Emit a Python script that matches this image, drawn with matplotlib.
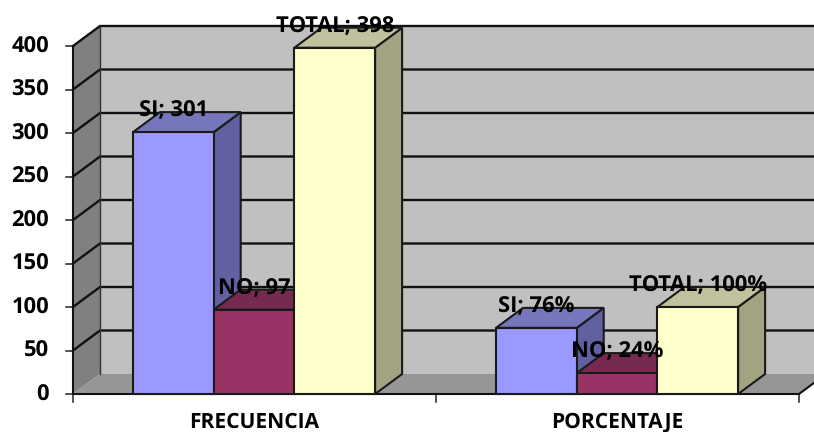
from matplotlib import pyplot as plt
from matplotlib.patches import Polygon
import numpy as np

grupos = ["FRECUENCIA", "PORCENTAJE"]
series = ["SI", "NO", "TOTAL"]
frecuencia = [301, 97, 398]
porcentaje = [76, 24, 100]
y_ticks = [0, 50, 100, 150, 200, 250, 300, 350, 400]

# colores: frente, lateral, tapa
frente = ["#9999FF", "#993366", "#FFFFCC"]
lateral = ["#6161A1", "#5E2140", "#A3A382"]
tapa = ["#7676BC", "#772A50", "#C1C19D"]

plt.rcParams['font.family'] = ['Open Sans', 'DejaVu Sans']
plt.rcParams['text.hinting'] = 'no_hinting'
plt.rcParams['text.hinting_factor'] = 1

fig = plt.figure(figsize=(8.14, 4.32), dpi=100)
ax = fig.add_axes([73 / 814, 1 - 394 / 432, 726 / 814, 348 / 432])
ax.set_xlim(0, 2)
ax.set_ylim(0, 400)
ax.axis("off")

# profundidad del efecto 3D en unidades de datos
dx = 27 / 363
dy = 20 / 0.87
ancho = 80.7 / 363
margen = 60 / 363


def poligono(puntos, color, z, borde="none", lw=0):
    ax.add_patch(Polygon(puntos, closed=True, facecolor=color, edgecolor=borde,
                         linewidth=lw, zorder=z, clip_on=False))


# paredes y piso
poligono([(dx, dy), (2 + dx, dy), (2 + dx, 400 + dy), (dx, 400 + dy)], "#C0C0C0", 1)
poligono([(0, 0), (dx, dy), (dx, 400 + dy), (0, 400)], "#808080", 1)
poligono([(0, 0), (2, 0), (2 + dx, dy), (dx, dy)], "#969696", 1)

# lineas de la cuadricula
for v in y_ticks:
    if v > 0:
        ax.plot([0, dx, 2 + dx], [v, v + dy, v + dy], color="#111111", lw=1.7,
                zorder=2, clip_on=False)
    ax.plot([-7 / 363, 0], [v, v], color="#222222", lw=1.1, zorder=2, clip_on=False)
ax.plot([dx, dx], [dy, 400 + dy], color="#333333", lw=1, zorder=2, clip_on=False)
ax.plot([0, 0], [0, 400], color="#111111", lw=1.5, zorder=3, clip_on=False)
ax.plot([0, 2, 2 + dx], [0, 0, dy], color="#111111", lw=1.5, zorder=3, clip_on=False)

# marcas del eje x
for x in range(3):
    ax.plot([x, x], [0, -8 / 0.87], color="#222222", lw=1.1, zorder=2, clip_on=False)

# barras
for g, valores in enumerate([frecuencia, porcentaje]):
    for i, v in enumerate(valores):
        x0 = g + margen + i * ancho
        x1 = x0 + ancho
        z = 4 + i
        poligono([(x1, 0), (x1 + dx, dy), (x1 + dx, v + dy), (x1, v)], lateral[i], z, "#1a1a1a", 1.5)
        poligono([(x0, v), (x1, v), (x1 + dx, v + dy), (x0 + dx, v + dy)], tapa[i], z, "#1a1a1a", 1.5)
        ax.bar(x0, v, width=ancho, align="edge", color=frente[i], edgecolor="#1a1a1a",
               linewidth=1.5, zorder=z, clip_on=False)

# etiquetas de datos
for g, valores in enumerate([frecuencia, porcentaje]):
    sufijo = "" if g == 0 else "%"
    for i, v in enumerate(valores):
        xc = g + margen + (i + 0.5) * ancho
        ax.text(xc, v + 21.5 / 0.87, "{}; {}{}".format(series[i], v, sufijo), fontsize=15.5,
                fontweight="bold", ha="center", va="center", color="black", zorder=10)

# rotulos de los ejes
for v in y_ticks:
    ax.text(-24 / 363, v - 1, str(v), fontsize=15.5, fontweight="bold", ha="right",
            va="center", color="black", clip_on=False)
for g, nombre in enumerate(grupos):
    ax.text(g + 0.5, -28 / 0.87, nombre, fontsize=15, fontweight="bold", ha="center",
            va="center", color="black", clip_on=False)

plt.savefig("out.png", dpi=100)
